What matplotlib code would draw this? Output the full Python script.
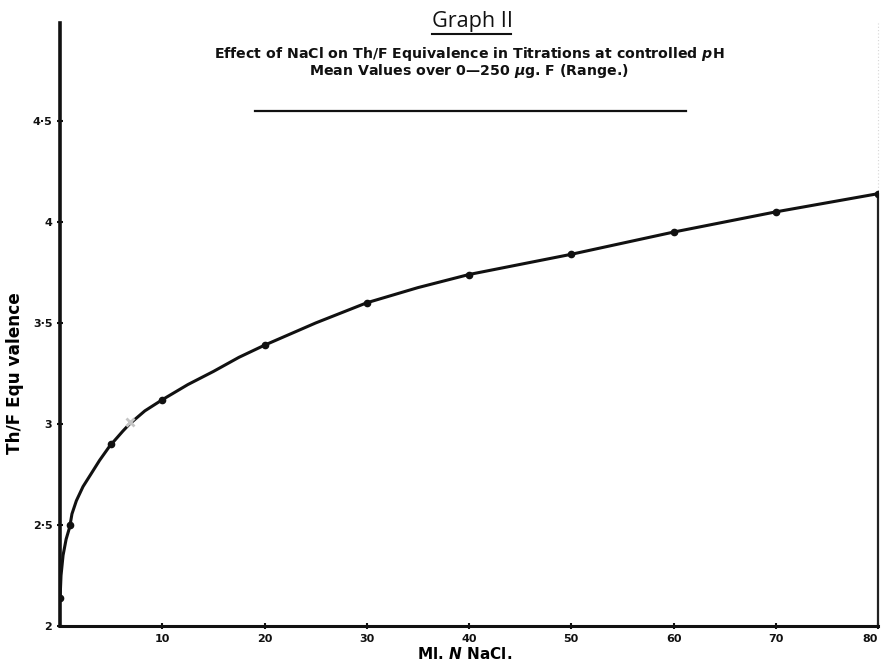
import matplotlib
matplotlib.use("Agg")
import matplotlib.pyplot as plt
from matplotlib.lines import Line2D

# ---- data ----
point_x = [0, 1, 5, 10, 20, 30, 40, 50, 60, 70, 80]
point_y = [2.14, 2.5, 2.9, 3.12, 3.39, 3.60, 3.74, 3.84, 3.95, 4.05, 4.14]

faint_x = [6.8]
faint_y = [3.01]

curve_x = [0, 0.1, 0.3, 0.6, 0.95, 1.17, 1.6, 2.25, 3.0, 3.87, 4.85, 6.15, 6.8, 8.3, 10, 12.5, 15, 17.5, 20, 25, 30, 35, 40, 50, 60, 70, 80]
curve_y = [2.13, 2.25, 2.35, 2.43, 2.49, 2.555, 2.62, 2.69, 2.75, 2.82, 2.89, 2.965, 3.0, 3.065, 3.12, 3.195, 3.26, 3.33, 3.39, 3.50, 3.60, 3.675, 3.74, 3.84, 3.95, 4.05, 4.14]

x_ticks = [10, 20, 30, 40, 50, 60, 70, 80]
x_tick_labels = ["10", "20", "30", "40", "50", "60", "70", "80"]
y_ticks = [2, 2.5, 3, 3.5, 4, 4.5]
y_tick_labels = ["2", "2·5", "3", "3·5", "4", "4·5"]

title = "Graph II"
subtitle1 = "Effect of NaCl on Th/F Equivalence in Titrations at controlled $\\it{p}$H"
subtitle2 = "Mean Values over 0—250 $\\mu$g. F (Range.)"
xlabel = "Ml. $\\it{N}$ NaCl."
ylabel = "Th/F Equ valence"

FONT = "DejaVu Sans"
plt.rcParams["font.family"] = [FONT]
plt.rcParams["mathtext.fontset"] = "custom"
plt.rcParams["mathtext.rm"] = FONT + ":bold"
plt.rcParams["mathtext.it"] = FONT + ":italic:bold"
plt.rcParams["mathtext.bf"] = FONT + ":bold"

W, H = 881, 668
fig = plt.figure(figsize=(W / 100, H / 100), dpi=100)
ax = fig.add_axes([60 / W, 42 / H, 818 / W, 603 / H])

ax.plot(curve_x, curve_y, color="#111111", lw=2.2, solid_capstyle="round", solid_joinstyle="round", zorder=3)
ax.plot(point_x, point_y, "o", color="#111111", ms=4.5, zorder=4)
ax.plot(faint_x, faint_y, "x", color="#c4c4c4", ms=6, mew=2, zorder=5)

ax.set_xlim(0, 80)
ax.set_ylim(2, 4.985)

ax.set_xticks(x_ticks)
ax.set_xticklabels(x_tick_labels)
ax.set_yticks(y_ticks)
ax.set_yticklabels(y_tick_labels)
ax.tick_params(axis="both", direction="inout", length=5, width=1.5, color="#111111",
               labelsize=8, pad=3)
for lab in ax.get_xticklabels() + ax.get_yticklabels():
    lab.set_fontweight("bold")
    lab.set_color("#111111")
xl = ax.get_xticklabels()
xl[-1].set_horizontalalignment("right")
xl[-1].set_x(80)

ax.spines["top"].set_visible(False)
ax.spines["left"].set_linewidth(2.6)
ax.spines["bottom"].set_linewidth(2.2)
ax.spines["left"].set_color("#111111")
ax.spines["bottom"].set_color("#111111")
ax.spines["right"].set_linewidth(1.6)
ax.spines["right"].set_color("#222222")
ax.spines["right"].set_bounds(2, point_y[-1])
ax.axvline(80, ymin=(point_y[-1] - 2) / (4.985 - 2), ymax=1, color="#d6d6d6", lw=0.8,
           ls=(0, (1, 2)), clip_on=False)

xlab = ax.set_xlabel(xlabel, fontsize=10.5, fontweight="bold", labelpad=2, x=0.495)
ylab = ax.set_ylabel(ylabel, fontsize=11.5, fontweight="bold", labelpad=6, y=0.42)

# titles
t0 = fig.text(472 / W, 1 - 21 / H, title, ha="center", va="center", fontsize=13.5,
              color="#111111", family="Open Sans")
fig.add_artist(Line2D([432 / W, 511 / W], [1 - 34 / H, 1 - 34 / H], color="#111111", lw=1.5))
t1 = fig.text(469 / W, 1 - 54 / H, subtitle1, ha="center", va="center", fontsize=9,
              fontweight="bold", color="#111111")
t2 = fig.text(469 / W, 1 - 71 / H, subtitle2, ha="center", va="center", fontsize=9,
              fontweight="bold", color="#111111")
fig.add_artist(Line2D([255 / W, 686 / W], [1 - 111 / H, 1 - 111 / H], color="#111111", lw=1.6))

# fit text sizes to the widths measured in the reference
renderer = fig.canvas.get_renderer()
def fit(txt, target, vertical=False):
    bb = txt.get_window_extent(renderer)
    cur = bb.height if vertical else bb.width
    txt.set_fontsize(txt.get_fontsize() * target / cur)

fit(t0, 81)
fit(t1, 512)
t2.set_fontsize(t1.get_fontsize())
fit(xlab, 96)
fit(ylab, 163, vertical=True)

fig.savefig("out.png", dpi=100, facecolor="white")
